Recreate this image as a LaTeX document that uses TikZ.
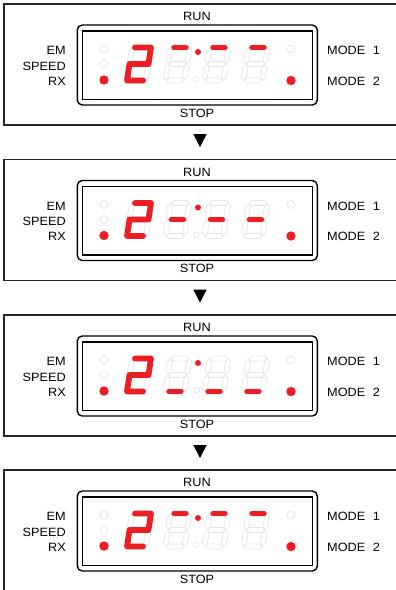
\documentclass[tikz,border=0pt]{standalone}
\usepackage{fontspec}
\setmainfont{Liberation Sans}[FakeStretch=1.06]
\definecolor{ledred}{RGB}{236,30,36}
\definecolor{ledoff}{RGB}{229,229,229}
\begin{document}
\begin{tikzpicture}[x=1pt,y=-1pt,
  frame/.style={draw=black!85, line width=1.3pt},
  bezel/.style={draw=black, line width=1.4pt, rounded corners=5pt},
  window/.style={draw=black, line width=1.4pt},
  lbl/.style={font=\fontsize{12}{14}\selectfont, inner sep=0pt},
  offled/.style={draw=ledoff, line width=0.8pt},
  offseg/.style={draw=ledoff, line width=0.7pt, line join=round},
  onseg/.style={draw=ledred, line width=5.3pt, line cap=round, line join=round},
  tri/.style={fill=black}]
\useasboundingbox (0,0) rectangle (396,590);
\clip (0,0) rectangle (396,590);
\foreach \oy/\w [count=\i] in {0/-16.5,155.5/0,311/16.5,466/-16.5}{
\begin{scope}[shift={(0,\oy)}]
  \draw[frame] (4,4) rectangle (420,125);
  \draw[bezel] (77.3,25) rectangle (317.3,105);
  \draw[window] (82.7,31) rectangle (312.3,99.3);
  \node[lbl,anchor=base] (run\i) at (197,20.7) {RUN};
  \node[lbl,anchor=base] (stop\i) at (197,117) {STOP};
  \node[lbl,anchor=base east] (em\i) at (66,54.5) {EM};
  \node[lbl,anchor=base east] (speed\i) at (66,70) {SPEED};
  \node[lbl,anchor=base east] (rx\i) at (66,85) {RX};
  \node[lbl,anchor=base west] (modea\i) at (327,54.5) {MODE\hspace{0.62em}1};
  \node[lbl,anchor=base west] (modeb\i) at (327,85) {MODE\hspace{0.62em}2};
  % indicator LEDs
  \draw[offled] (104,49) circle (4);
  \draw[offled] (104,64) circle (4);
  \fill[ledred] (104,80) circle (4.7);
  \draw[offled] (291,49) circle (4);
  \fill[ledred] (291,80.5) circle (4.7);
  % colon
  \fill[ledred] (198,52) circle (3);
  \draw[offled] (196.5,79) circle (2.8);
  % digit outlines
  \foreach \cx in {139,177.5,216.5,255.5}{
    \begin{scope}[shift={(\cx,64)},xslant=0.15]
      \foreach \hw in {-16.5,0,16.5}
        \draw[offseg] (-9,\hw) -- ++(2.5,-2.5) -- ++(13,0) -- ++(2.5,2.5) -- ++(-2.5,2.5) -- ++(-13,0) -- cycle;
      \foreach \vu/\vw in {-9.5/-13.5,9.5/-13.5,-9.5/3,9.5/3}
        \draw[offseg] (\vu,\vw) ++(0,-2.5) -- ++(2.5,2.5) -- ++(0,10.5) -- ++(-2.5,2.5) -- ++(-2.5,-2.5) -- ++(0,-10.5) -- cycle;
    \end{scope}
  }
  % lit "2"
  \begin{scope}[shift={(139,64)},xslant=0.15]
    \draw[onseg, line width=5.8pt] (-6.5,-16.5) -- (9.5,-16.5) -- (9.5,0) -- (-9.5,0) -- (-9.5,16.5) -- (6.5,16.5);
  \end{scope}
  % lit segments
  \foreach \cx in {177.5,216.5,255.5}{
    \begin{scope}[shift={(\cx,64)},xslant=0.15]
      \draw[onseg] (-6,\w) -- (6,\w);
    \end{scope}
  }
\end{scope}
}
\foreach \ty in {0,155.5,311}
  \fill[tri] (193.3,{134+\ty}) -- (206.7,{134+\ty}) -- (200,{147+\ty}) -- cycle;
\end{tikzpicture}
\end{document}
